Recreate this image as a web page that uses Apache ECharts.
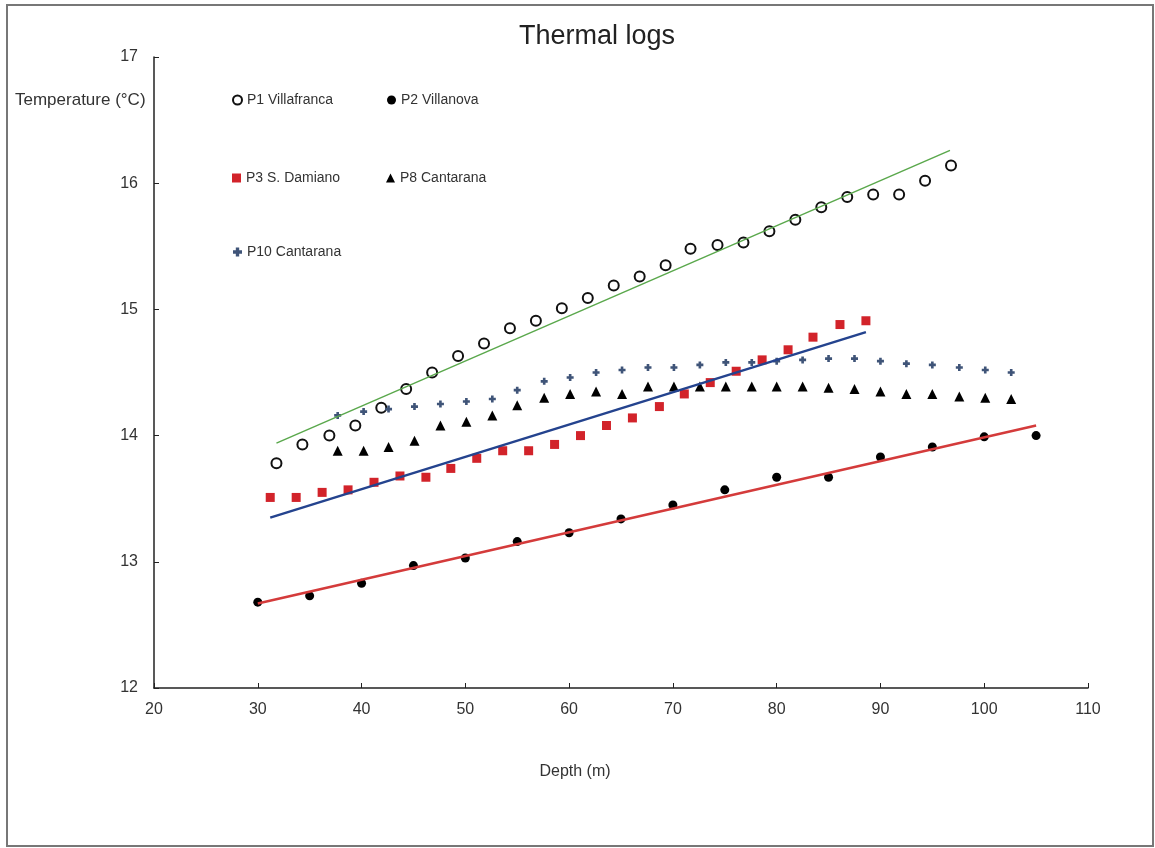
<!DOCTYPE html>
<html>
<head>
<meta charset="utf-8">
<title>Thermal logs</title>
<script src="https://cdn.jsdelivr.net/npm/echarts@6/dist/echarts.min.js"></script>
<style>
    html, body { margin: 0; padding: 0; background: #fff; }
    #thermal { width: 1155px; height: 848px; }
</style>
</head>
<body>
<div id="thermal"></div>
<script>
// Data
// ------------------------------

var xTicks = [20, 30, 40, 50, 60, 70, 80, 90, 100, 110];
var yTicks = [12, 13, 14, 15, 16, 17];

var p1Depth = [31.8, 34.3, 36.9, 39.4, 41.9, 44.3, 46.8, 49.3, 51.8, 54.3, 56.8, 59.3, 61.8, 64.3,
    66.8, 69.3, 71.7, 74.3, 76.8, 79.3, 81.8, 84.3, 86.8, 89.3, 91.8, 94.3, 96.8];
var p1Temp = [13.78, 13.93, 14.00, 14.08, 14.22, 14.37, 14.50, 14.63, 14.73, 14.85, 14.91, 15.01, 15.09, 15.19,
    15.26, 15.35, 15.48, 15.51, 15.53, 15.62, 15.71, 15.81, 15.89, 15.91, 15.91, 16.02, 16.14];

var p2Depth = [30, 35, 40, 45, 50, 55, 60, 65, 70, 75, 80, 85, 90, 95, 100, 105];
var p2Temp = [12.68, 12.73, 12.83, 12.97, 13.03, 13.16, 13.23, 13.34, 13.45, 13.57, 13.67, 13.67, 13.83, 13.91, 13.99, 14.00];

var p3Depth = [31.2, 33.7, 36.2, 38.7, 41.2, 43.7, 46.2, 48.6, 51.1, 53.6, 56.1, 58.6, 61.1, 63.6,
    66.1, 68.7, 71.1, 73.6, 76.1, 78.6, 81.1, 83.5, 86.1, 88.6];
var p3Temp = [13.51, 13.51, 13.55, 13.57, 13.63, 13.68, 13.67, 13.74, 13.82, 13.88, 13.88, 13.93, 14.00, 14.08,
    14.14, 14.23, 14.33, 14.42, 14.51, 14.60, 14.68, 14.78, 14.88, 14.91];

var p8Depth = [37.7, 40.2, 42.6, 45.1, 47.6, 50.1, 52.6, 55.0, 57.6, 60.1, 62.6, 65.1, 67.6, 70.1,
    72.6, 75.1, 77.6, 80.0, 82.5, 85.0, 87.5, 90.0, 92.5, 95.0, 97.6, 100.1, 102.6];
var p8Temp = [13.88, 13.88, 13.91, 13.96, 14.08, 14.11, 14.16, 14.24, 14.30, 14.33, 14.35, 14.33, 14.39, 14.39,
    14.39, 14.39, 14.39, 14.39, 14.39, 14.38, 14.37, 14.35, 14.33, 14.33, 14.31, 14.30, 14.29];

var p10Depth = p8Depth;
var p10Temp = [14.16, 14.19, 14.21, 14.23, 14.25, 14.27, 14.29, 14.36, 14.43, 14.46, 14.50, 14.52, 14.54, 14.54,
    14.56, 14.58, 14.58, 14.59, 14.60, 14.61, 14.61, 14.59, 14.57, 14.56, 14.54, 14.52, 14.50];

// linear trendlines (end points)
var trendP1 = [[31.8, 13.94], [96.7, 16.26]];
var trendP3 = [[31.2, 13.35], [88.6, 14.82]];
var trendP2 = [[30, 12.67], [105, 14.08]];


// Setup module
// ------------------------------

var ThermalLogsChart = function() {

    var pairs = function(xs, ys) {
        return xs.map(function(x, i) { return [x, ys[i]]; });
    };

    var _thermalChart = function() {
        if (typeof echarts == 'undefined') {
            console.warn('Warning - echarts.min.js is not loaded.');
            return;
        }

        var element = document.getElementById('thermal');
        if (!element) return;

        var chart = echarts.init(element);
        var font = 'Liberation Sans, Arial, sans-serif';

        // one legend block per entry, laid out like the original
        var legendAt = function(name, left, top) {
            return {
                data: [name],
                left: left,
                top: top,
                padding: 0,
                itemWidth: 9,
                itemHeight: 9,
                textStyle: { fontSize: 14, color: '#333', fontFamily: font }
            };
        };

        chart.setOption({
            animation: false,
            textStyle: { fontFamily: font },

            title: {
                text: 'Thermal logs',
                left: 519,
                top: 23,
                padding: 0,
                textStyle: { fontSize: 27, fontWeight: 'normal', color: '#222' }
            },

            legend: [
                legendAt('P1 Villafranca', 232, 93),
                legendAt('P2 Villanova', 387, 93),
                legendAt('P3 S. Damiano', 232, 171),
                legendAt('P8 Cantarana', 386, 171),
                legendAt('P10 Cantarana', 233, 245)
            ],

            grid: {
                left: 154,
                right: 67,
                top: 57,
                bottom: 160
            },

            xAxis: {
                type: 'value',
                min: xTicks[0],
                max: xTicks[xTicks.length - 1],
                interval: 10,
                name: 'Depth (m)',
                nameLocation: 'middle',
                nameGap: 76,
                nameTextStyle: { fontSize: 16, color: '#333', padding: [0, 92, 0, 0] },
                axisLine: { lineStyle: { color: '#222', width: 1.5 } },
                axisTick: { inside: true, length: 5, lineStyle: { color: '#222' } },
                axisLabel: { fontSize: 16, color: '#333', margin: 14 },
                splitLine: { show: false }
            },

            yAxis: {
                type: 'value',
                min: yTicks[0],
                max: yTicks[yTicks.length - 1],
                interval: 1,
                axisLine: { show: true, lineStyle: { color: '#222', width: 1.5 } },
                axisTick: { show: true, inside: true, length: 5, lineStyle: { color: '#222' } },
                axisLabel: { fontSize: 16, color: '#333', margin: 16 },
                splitLine: { show: false }
            },

            graphic: [
                {
                    type: 'text',
                    left: 15,
                    top: 92,
                    style: {
                        text: 'Temperature (°C)',
                        font: '17px ' + font,
                        fill: '#333'
                    }
                },
                {
                    type: 'rect',
                    shape: { x: 7, y: 5, width: 1146, height: 841 },
                    style: { fill: 'none', stroke: '#777', lineWidth: 2 },
                    silent: true
                }
            ],

            series: [
                {
                    name: 'P1 Villafranca',
                    type: 'scatter',
                    symbol: 'circle',
                    symbolSize: 10,
                    itemStyle: { color: '#fff', borderColor: '#111', borderWidth: 2, opacity: 1 },
                    data: pairs(p1Depth, p1Temp),
                    z: 2
                },
                {
                    name: 'P2 Villanova',
                    type: 'scatter',
                    symbol: 'circle',
                    symbolSize: 9,
                    itemStyle: { color: '#000', opacity: 1 },
                    data: pairs(p2Depth, p2Temp),
                    z: 2
                },
                {
                    name: 'P3 S. Damiano',
                    type: 'scatter',
                    symbol: 'rect',
                    symbolSize: 9,
                    itemStyle: { color: '#d2232a', opacity: 1 },
                    data: pairs(p3Depth, p3Temp),
                    z: 2
                },
                {
                    name: 'P8 Cantarana',
                    type: 'scatter',
                    symbol: 'triangle',
                    symbolSize: 10,
                    itemStyle: { color: '#000', opacity: 1 },
                    data: pairs(p8Depth, p8Temp),
                    z: 2
                },
                {
                    name: 'P10 Cantarana',
                    type: 'scatter',
                    symbol: 'path://M2.5,0H5.5V2.5H8V5.5H5.5V8H2.5V5.5H0V2.5H2.5Z',
                    symbolSize: 7,
                    itemStyle: { color: '#3f5478', opacity: 1 },
                    data: pairs(p10Depth, p10Temp),
                    z: 2
                },

                // Trendlines
                {
                    type: 'line',
                    data: trendP1,
                    symbol: 'none',
                    silent: true,
                    lineStyle: { color: '#5aa84c', width: 1.5 },
                    z: 3
                },
                {
                    type: 'line',
                    data: trendP3,
                    symbol: 'none',
                    silent: true,
                    lineStyle: { color: '#24438e', width: 2.5 },
                    z: 3
                },
                {
                    type: 'line',
                    data: trendP2,
                    symbol: 'none',
                    silent: true,
                    lineStyle: { color: '#d43b3b', width: 2.5 },
                    z: 3
                }
            ]
        });

        window.addEventListener('resize', function() {
            chart.resize();
        });
    };

    return {
        init: function() {
            _thermalChart();
        }
    }
}();


// Initialize module
// ------------------------------

document.addEventListener('DOMContentLoaded', function() {
    ThermalLogsChart.init();
});
</script>
</body>
</html>
